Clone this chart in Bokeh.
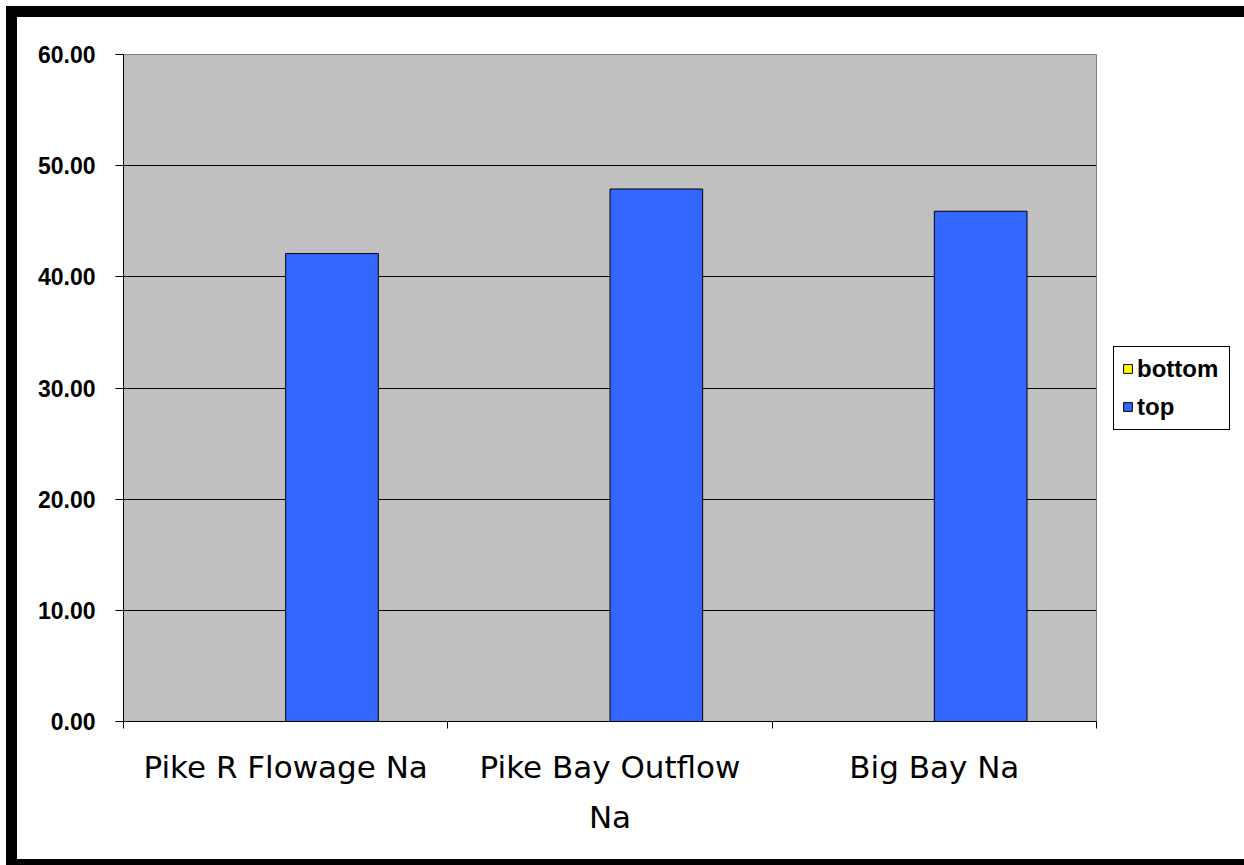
from bokeh.plotting import figure
from bokeh.models import Range1d, FixedTicker, NumeralTickFormatter, Legend, LegendItem
from bokeh.embed import file_html
from bokeh.resources import INLINE
import numpy as np

# Sodium readings per sampling site
categories = ["Pike R Flowage Na", "Pike Bay Outflow\nNa", "Big Bay Na"]
bottom_vals = [0.0, 0.0, 0.0]
top_vals = [42.1, 47.9, 45.9]
y_ticks = [0, 10, 20, 30, 40, 50, 60]

# Excel-style clustered layout: two bars per category, gap width 150%
n_series = 2
gap = 1.5
slot = 1.0 / (n_series + gap)
idx = np.arange(len(categories))
x_bottom = idx + gap / 2 * slot + 0.5 * slot
x_top = idx + gap / 2 * slot + 1.5 * slot

p = figure(frame_width=973, frame_height=667, output_backend="svg", toolbar_location=None,
           x_range=Range1d(0, len(categories)), y_range=Range1d(0, 60),
           min_border_left=123, min_border_right=148,
           min_border_top=54, min_border_bottom=144)

p.background_fill_color = "#C0C0C0"
p.border_fill_color = None
p.outline_line_color = "#808080"
p.outline_line_width = 1

# heavy black frame around the whole chart, drawn behind the transparent canvas
p.styles = {
    "background-color": "white",
    "box-shadow": ("inset 6px 0 0 0 white, inset 0 6px 0 0 white, "
                   "inset 17px 0 0 0 black, inset 0 17px 0 0 black, "
                   "inset -9px 0 0 0 black, inset 0 -6px 0 0 black"),
}

r_bottom = p.vbar(x=x_bottom, top=bottom_vals, width=slot, fill_color="#FFFF00",
                  line_color="black", line_width=1)
r_top = p.vbar(x=x_top, top=top_vals, width=slot, fill_color="#3366FF",
               line_color="black", line_width=1)

# y axis
p.yaxis.ticker = FixedTicker(ticks=y_ticks)
p.yaxis.formatter = NumeralTickFormatter(format="0.00")
p.yaxis.major_label_text_font = "Liberation Sans"
p.yaxis.major_label_text_font_style = "bold"
p.yaxis.major_label_text_font_size = "23px"
p.yaxis.major_label_text_color = "black"
p.yaxis.major_tick_out = 8
p.yaxis.major_tick_in = 0
p.yaxis.minor_tick_out = 0
p.yaxis.minor_tick_in = 0
p.yaxis.major_label_standoff = 20
p.yaxis.axis_line_color = "black"
p.yaxis.major_tick_line_color = "black"

# x axis: labels centred in each category, ticks at the category boundaries
centers = [i + 0.5 for i in range(len(categories))]
bounds = list(range(len(categories) + 1))
p.xaxis.ticker = FixedTicker(ticks=centers, minor_ticks=bounds)
p.xaxis.major_label_overrides = {c: lab for c, lab in zip(centers, categories)}
p.xaxis.major_tick_out = 0
p.xaxis.major_tick_in = 0
p.xaxis.minor_tick_out = 7
p.xaxis.minor_tick_in = 0
p.xaxis.minor_tick_line_color = "black"
p.xaxis.axis_line_color = "black"
p.xaxis.major_label_text_font = "DejaVu Sans"
p.xaxis.major_label_text_font_size = "31px"
p.xaxis.major_label_text_line_height = 1.4
p.xaxis.major_label_text_color = "black"
p.xaxis.major_label_standoff = 20

p.xgrid.grid_line_color = None
p.ygrid.ticker = FixedTicker(ticks=y_ticks)
p.ygrid.grid_line_color = "black"
p.ygrid.grid_line_width = 1

legend = Legend(items=[LegendItem(label="bottom", renderers=[r_bottom]),
                       LegendItem(label="top", renderers=[r_top])],
                location="left")
legend.label_text_font = "Liberation Sans"
legend.label_text_font_style = "bold"
legend.label_text_font_size = "24px"
legend.label_text_color = "black"
legend.glyph_width = 11
legend.glyph_height = 11
legend.label_standoff = 4
legend.label_width = 84
legend.padding = 8
legend.spacing = 10
legend.margin = 17
legend.border_line_color = "black"
legend.border_line_alpha = 1
legend.border_line_width = 1
legend.background_fill_color = "white"
legend.background_fill_alpha = 1
p.add_layout(legend, "right")

open("out.html", "w").write(file_html(p, INLINE))
